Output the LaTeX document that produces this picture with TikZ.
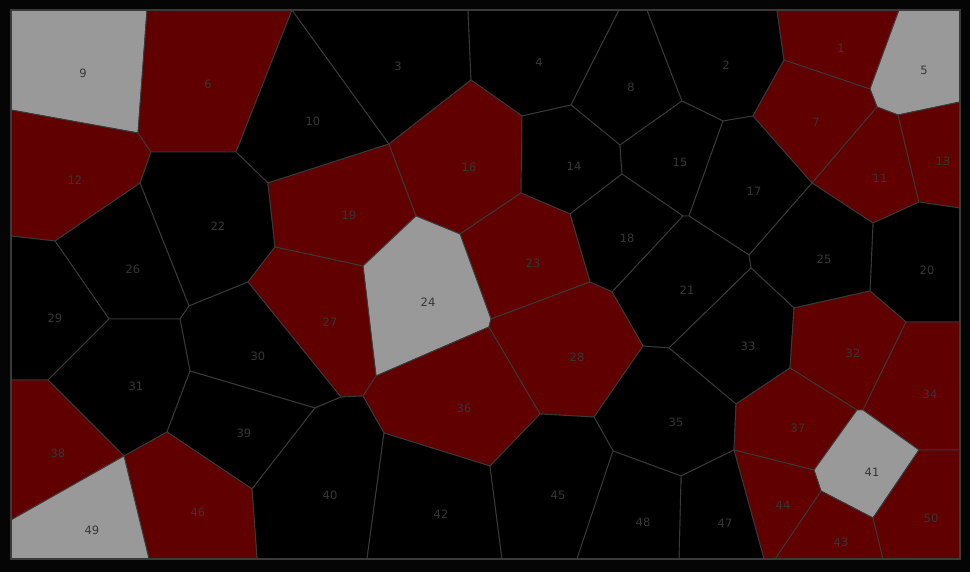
\documentclass[tikz,border=0pt]{standalone}
\usepackage{fontspec}
\setmainfont{DejaVu Sans}
\definecolor{bgdark}{HTML}{050505}
\definecolor{edgegrey}{HTML}{3A3A3A}
\definecolor{cellred}{HTML}{600000}
\definecolor{cellgrey}{HTML}{999999}
\definecolor{labelgrey}{HTML}{363636}
\begin{document}
\begin{tikzpicture}[x=1pt, y=-1pt]
    % Styles
    \tikzstyle{cell} = [draw=edgegrey, line width=0.9pt, line join=round, fill=black]
    \tikzstyle{redcell} = [cell, fill=cellred]
    \tikzstyle{greycell} = [cell, fill=cellgrey]
    \tikzstyle{tag} = [text=labelgrey, font=\fontsize{11.5}{12}\selectfont, inner sep=0pt]

    % Background and frame
    \fill[bgdark] (0,0) rectangle (970,572);
    \useasboundingbox (0,0) rectangle (970,572);
    \fill[black] (11,10) rectangle (960,559);

    % Cells, top row
    \filldraw[greycell] (11,10) -- (147,10) -- (138,133) -- (11,110) -- cycle;
    \filldraw[redcell] (147,10) -- (292,10) -- (236,152) -- (151,152) -- (138,133) -- cycle;
    \filldraw[cell] (292,10) -- (389,144) -- (268,183) -- (236,152) -- cycle;
    \filldraw[cell] (292,10) -- (468,10) -- (471,80) -- (389,144) -- cycle;
    \filldraw[cell] (468,10) -- (619,10) -- (571,105) -- (522,116) -- (471,80) -- cycle;
    \filldraw[cell] (619,10) -- (647,10) -- (682,101) -- (620,145) -- (571,105) -- cycle;
    \filldraw[cell] (647,10) -- (777,10) -- (784,60) -- (753,116) -- (723,121) -- (682,101) -- cycle;
    \filldraw[redcell] (777,10) -- (899,10) -- (870,89) -- (784,60) -- cycle;
    \filldraw[greycell] (899,10) -- (960,10) -- (960,102) -- (898,115) -- (877,107) -- (870,89) -- cycle;
    \filldraw[redcell] (784,60) -- (870,89) -- (877,107) -- (812,183) -- (753,116) -- cycle;
    \filldraw[redcell] (877,107) -- (898,115) -- (919,202) -- (873,223) -- (812,183) -- cycle;
    \filldraw[redcell] (898,115) -- (960,102) -- (960,208) -- (919,202) -- cycle;

    % Cells, second row
    \filldraw[redcell] (11,110) -- (138,133) -- (151,152) -- (140,183) -- (55,241) -- (11,236) -- cycle;
    \filldraw[cell] (151,152) -- (236,152) -- (268,183) -- (275,247) -- (248,282) -- (189,306) -- (140,183) -- cycle;
    \filldraw[redcell] (268,183) -- (389,144) -- (416,216) -- (363,266) -- (275,247) -- cycle;
    \filldraw[redcell] (389,144) -- (471,80) -- (522,116) -- (521,193) -- (460,234) -- (416,216) -- cycle;
    \filldraw[cell] (522,116) -- (571,105) -- (620,145) -- (622,174) -- (570,214) -- (521,193) -- cycle;
    \filldraw[cell] (682,101) -- (723,121) -- (689,216) -- (683,216) -- (622,174) -- (620,145) -- cycle;
    \filldraw[cell] (723,121) -- (753,116) -- (812,183) -- (749,255) -- (689,216) -- cycle;
    \filldraw[cell] (622,174) -- (683,216) -- (612,292) -- (590,282) -- (570,214) -- cycle;
    \filldraw[cell] (919,202) -- (960,208) -- (960,322) -- (906,322) -- (870,291) -- (873,223) -- cycle;
    \filldraw[cell] (812,183) -- (873,223) -- (870,291) -- (794,308) -- (751,268) -- (749,255) -- cycle;
    \filldraw[cell] (683,216) -- (689,216) -- (749,255) -- (751,268) -- (669,348) -- (643,346) -- (612,292) -- cycle;
    \filldraw[redcell] (460,234) -- (521,193) -- (570,214) -- (590,282) -- (491,319) -- cycle;
    \filldraw[greycell] (416,216) -- (460,234) -- (491,319) -- (489,327) -- (376,376) -- (363,266) -- cycle;

    % Cells, middle row
    \filldraw[cell] (140,183) -- (189,306) -- (180,319) -- (109,319) -- (55,241) -- cycle;
    \filldraw[cell] (11,236) -- (55,241) -- (109,319) -- (48,380) -- (11,380) -- cycle;
    \filldraw[redcell] (275,247) -- (363,266) -- (376,376) -- (363,396) -- (341,397) -- (248,282) -- cycle;
    \filldraw[cell] (189,306) -- (248,282) -- (341,397) -- (315,408) -- (190,371) -- (180,319) -- cycle;
    \filldraw[cell] (109,319) -- (180,319) -- (190,371) -- (167,432) -- (124,456) -- (48,380) -- cycle;
    \filldraw[redcell] (491,319) -- (590,282) -- (612,292) -- (643,346) -- (594,417) -- (540,414) -- (489,327) -- cycle;
    \filldraw[cell] (751,268) -- (794,308) -- (790,368) -- (736,404) -- (669,348) -- cycle;
    \filldraw[redcell] (794,308) -- (870,291) -- (906,322) -- (863,410) -- (857,410) -- (790,368) -- cycle;
    \filldraw[redcell] (906,322) -- (960,322) -- (960,450) -- (919,450) -- (863,410) -- cycle;
    \filldraw[cell] (643,346) -- (669,348) -- (736,404) -- (734,450) -- (681,476) -- (613,451) -- (594,417) -- cycle;
    \filldraw[redcell] (363,396) -- (376,376) -- (489,327) -- (540,414) -- (490,466) -- (384,433) -- cycle;
    \filldraw[redcell] (790,368) -- (857,410) -- (814,470) -- (734,450) -- (736,404) -- cycle;

    % Cells, bottom row
    \filldraw[redcell] (11,380) -- (48,380) -- (124,456) -- (11,520) -- cycle;
    \filldraw[cell] (190,371) -- (315,408) -- (252,489) -- (167,432) -- cycle;
    \filldraw[cell] (315,408) -- (341,397) -- (363,396) -- (384,433) -- (367,559) -- (257,559) -- (252,489) -- cycle;
    \filldraw[greycell] (857,410) -- (863,410) -- (919,450) -- (873,518) -- (821,491) -- (814,470) -- cycle;
    \filldraw[cell] (384,433) -- (490,466) -- (502,559) -- (367,559) -- cycle;
    \filldraw[redcell] (821,491) -- (873,518) -- (883,559) -- (775,559) -- cycle;
    \filldraw[redcell] (734,450) -- (814,470) -- (821,491) -- (775,559) -- (764,559) -- cycle;
    \filldraw[cell] (490,466) -- (540,414) -- (594,417) -- (613,451) -- (577,559) -- (502,559) -- cycle;
    \filldraw[redcell] (124,456) -- (167,432) -- (252,489) -- (257,559) -- (149,559) -- cycle;
    \filldraw[cell] (681,476) -- (734,450) -- (764,559) -- (679,559) -- cycle;
    \filldraw[cell] (613,451) -- (681,476) -- (679,559) -- (577,559) -- cycle;
    \filldraw[greycell] (11,520) -- (124,456) -- (149,559) -- (11,559) -- cycle;
    \filldraw[redcell] (919,450) -- (960,450) -- (960,559) -- (883,559) -- (873,518) -- cycle;

    % Frame
    \draw[edgegrey, line width=1.3pt] (11,10) rectangle (960,559);

    % Labels
    \foreach \n/\x/\y in {1/841/48, 2/726/65, 3/398/66, 4/539/62, 5/924/70,
        6/208/84, 7/816/122, 8/631/87, 9/83/73, 10/313/121,
        11/880/178, 12/75/180, 13/943/161, 14/574/166, 15/680/162,
        16/469/167, 17/754/191, 18/627/238, 19/349/215, 20/927/270,
        21/687/290, 22/218/226, 23/533/263, 24/428/302, 25/824/259,
        26/133/269, 27/330/322, 28/577/357, 29/55/318, 30/258/356,
        31/136/386, 32/853/353, 33/748/346, 34/930/394, 35/676/422,
        36/464/408, 37/798/428, 38/58/453, 39/244/433, 40/330/495,
        41/872/472, 42/441/514, 43/841/542, 44/783/505, 45/558/495,
        46/198/512, 47/725/523, 48/643/522, 49/92/530, 50/931/518}
        \node[tag] (c\n) at (\x,\y) {\n};
\end{tikzpicture}
\end{document}
